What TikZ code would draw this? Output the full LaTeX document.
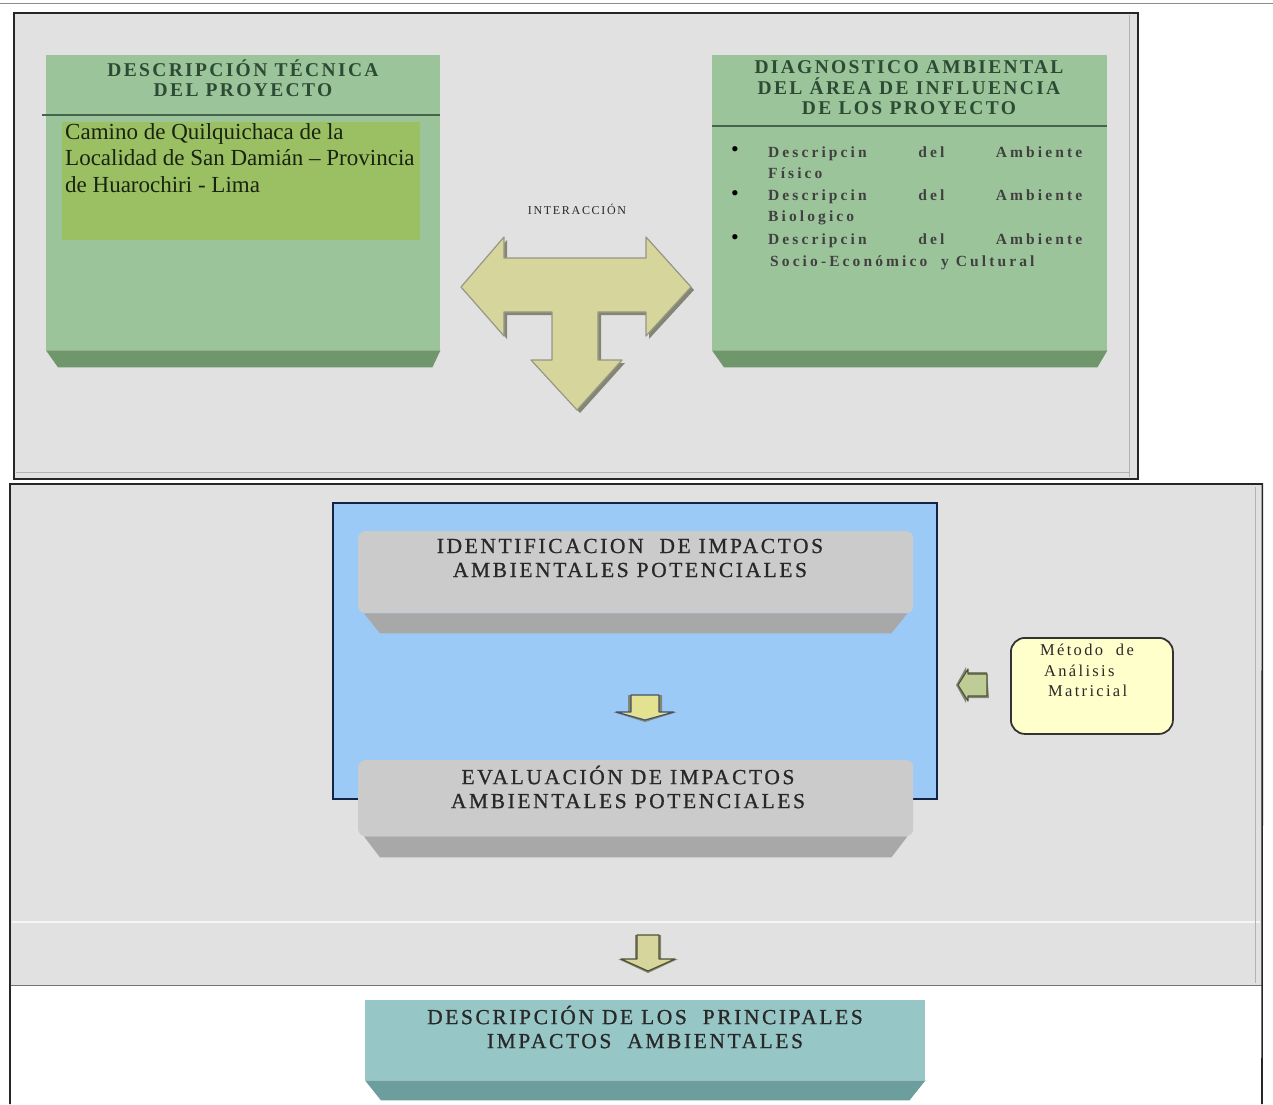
\documentclass[tikz,border=0pt]{standalone}
\usepackage{fontspec}
\setmainfont{Liberation Serif}
\newfontfamily\spc[LetterSpace=12,FakeBold=0.8]{Liberation Serif}
\newfontfamily\spch[LetterSpace=12]{Liberation Serif Bold}
\newfontfamily\spcb[LetterSpace=20]{Liberation Serif Bold}
\newfontfamily\spcs[LetterSpace=14]{Liberation Serif}
\usetikzlibrary{calc}
\definecolor{bggray}{RGB}{225,225,225}
\definecolor{greenface}{RGB}{156,196,154}
\definecolor{greenbev}{RGB}{112,150,108}
\definecolor{greensep}{RGB}{70,100,75}
\definecolor{hilite}{RGB}{155,192,100}
\definecolor{hdrtext}{RGB}{45,75,52}
\definecolor{bodytext}{RGB}{25,35,15}
\definecolor{bluefill}{RGB}{156,202,246}
\definecolor{bluedraw}{RGB}{20,35,70}
\definecolor{grayface}{RGB}{203,203,203}
\definecolor{graybev}{RGB}{168,168,168}
\definecolor{tealface}{RGB}{150,198,197}
\definecolor{tealbev}{RGB}{108,158,157}
\definecolor{khaki}{RGB}{214,213,155}
\definecolor{khakidark}{RGB}{80,82,55}
\definecolor{paleyellow}{RGB}{255,255,204}
\definecolor{txtgray}{RGB}{40,40,40}
\definecolor{paleyarrow}{RGB}{226,226,145}
\definecolor{greenarrow}{RGB}{190,205,150}
\begin{document}
\begin{tikzpicture}[x=1pt,y=-1pt,
  panel/.style={rectangle, fill=bggray, draw=black!85, line width=1.6pt, inner sep=0},
  greenbox/.style={rectangle, fill=greenface, draw=none, inner sep=0},
  greenbevel/.style={fill=greenbev},
  sepline/.style={draw=greensep, line width=1.4pt},
  hdr/.style={font=\spch\fontsize{19.5}{20.5}\selectfont, text=hdrtext, align=center, inner sep=0},
  bodyt/.style={font=\fontsize{23}{26.5}\selectfont, text=bodytext, align=left, inner sep=0, anchor=north west},
  bullt/.style={font=\spcb\fontsize{15.5}{17}\selectfont, text=black!75, inner sep=0, anchor=base west},
  bullet/.style={font=\fontsize{22}{22}\selectfont, text=black, inner sep=0},
  bluebox/.style={rectangle, fill=bluefill, draw=bluedraw, line width=1.6pt, inner sep=0},
  graybox/.style={rectangle, fill=grayface, draw=none, rounded corners=7pt, inner sep=0},
  graybevel/.style={fill=graybev},
  tealbox/.style={rectangle, fill=tealface, draw=none, inner sep=0},
  tealbevel/.style={fill=tealbev},
  capt/.style={font=\spc\fontsize{21.5}{24}\selectfont, text=txtgray, align=center, inner sep=0},
  blockarrow/.style={fill=khaki, draw=khakidark, line width=1.2pt, line join=round},
  blockshadow/.style={fill=khakidark!70, draw=none},
  notebox/.style={rectangle, rounded corners=14pt, fill=paleyellow, draw=black!80, line width=1.8pt, inner sep=0}
]
\useasboundingbox (0,0) rectangle (1273,1104);
\fill[white] (0,0) rectangle (1273,1104);
\draw[black!45, line width=1pt] (0,3) -- (1273,3);

% ---------- top panel ----------
\node[panel, anchor=north west, minimum width=1124, minimum height=466] (toppanel) at (13,12) {};
\draw[black!30, line width=0.8pt] ([xshift=-9,yshift=-3]toppanel.north east) -- ([xshift=-9,yshift=3]toppanel.south east);
\draw[black!30, line width=0.8pt] ([xshift=3,yshift=7]toppanel.south west) -- ([xshift=-9,yshift=7]toppanel.south east);

% left green box
\node[greenbox, anchor=north west, minimum width=394, minimum height=295] (tec) at (46,55) {};
\fill[greenbevel] (tec.south west) -- (tec.south east) -- ([xshift=-8,yshift=-17]tec.south east) -- ([xshift=12,yshift=-17]tec.south west) -- cycle;
\draw[sepline] ([xshift=-4,yshift=-60]tec.north west) -- ([yshift=-60]tec.north east);
\node[hdr] (tecH) at (243,78) {DESCRIPCIÓN TÉCNICA\\DEL PROYECTO};
\fill[hilite] (62,122) rectangle (420,240);
\node[bodyt] (tecT) at (65,123) {Camino de Quilquichaca de la\\Localidad de San Damián – Provincia\\de Huarochiri - Lima};

% right green box
\node[greenbox, anchor=north west, minimum width=395, minimum height=295] (diag) at (712,55) {};
\fill[greenbevel] (diag.south west) -- (diag.south east) -- ([xshift=-10,yshift=-17]diag.south east) -- ([xshift=12,yshift=-17]diag.south west) -- cycle;
\draw[sepline] ([yshift=-71]diag.north west) -- ([yshift=-71]diag.north east);
\node[hdr] (diagH) at (909,88) {DIAGNOSTICO AMBIENTAL\\DEL ÁREA DE INFLUENCIA\\DE LOS PROYECTO};
\node[bullet] (b1) at (735,152) {•};
\node[bullet] (b2) at (735,196) {•};
\node[bullet] (b3) at (735,240) {•};
\node[bullt] (l1) at (768,157) {\makebox[314pt][l]{Descripcin\hfill del\hfill Ambiente}};
\node[bullt] (l2) at (768,178) {Físico};
\node[bullt] (l3) at (768,200) {\makebox[314pt][l]{Descripcin\hfill del\hfill Ambiente}};
\node[bullt] (l4) at (768,221) {Biologico};
\node[bullt] (l5) at (768,244) {\makebox[314pt][l]{Descripcin\hfill del\hfill Ambiente}};
\node[bullt] (l6) at (770,266) {Socio-Económico\ \ y Cultural};

% interaction arrow
\node[font=\spcs\fontsize{12}{12}\selectfont, text=txtgray, inner sep=0] (inter) at (577,209) {INTERACCIÓN};
\coordinate (tarr) at (577,300);
\begin{scope}[shift={(3,3)}]
\fill[blockshadow] (461,287) -- (504,237) -- (504,258) -- (646,258) -- (646,237) -- (691,287) -- (646,336) -- (646,312) -- (598,312) -- (598,360) -- (622,360) -- (577,410) -- (531,360) -- (552,360) -- (552,312) -- (504,312) -- (504,336) -- cycle;
\end{scope}
\path[blockarrow, draw=khakidark!60] (461,287) -- (504,237) -- (504,258) -- (646,258) -- (646,237) -- (691,287) -- (646,336) -- (646,312) -- (598,312) -- (598,360) -- (622,360) -- (577,410) -- (531,360) -- (552,360) -- (552,312) -- (504,312) -- (504,336) -- cycle;

% ---------- lower panel ----------
\node[rectangle, fill=bggray, draw=none, anchor=north west, minimum width=1252, minimum height=502, inner sep=0] (lowpanel) at (10,484) {};
\draw[white, line width=2pt, opacity=0.7] (12,922) -- (1260,922);
\draw[black!55, line width=1.5pt] ([yshift=1]lowpanel.south west) -- ([yshift=1]lowpanel.south east);
\draw[black!85, line width=1.6pt] (10,1104) -- (lowpanel.north west) -- (lowpanel.north east) -- (1262,1104);
\draw[black!30, line width=0.8pt] ([xshift=-7,yshift=-3]lowpanel.north east) -- ([xshift=-7,yshift=3]lowpanel.south east);

% blue frame
\node[bluebox, anchor=north west, minimum width=604, minimum height=296] (blue) at (332,502) {};

% identification box
\node[graybox, anchor=north west, minimum width=555, minimum height=82] (ident) at (358,531) {};
\fill[graybevel] ([xshift=6]ident.south west) -- ([xshift=-6]ident.south east) -- ([xshift=-22,yshift=-20]ident.south east) -- ([xshift=22,yshift=-20]ident.south west) -- cycle;
\node[capt] (identT) at (630,558) {IDENTIFICACION\ \ DE IMPACTOS\\AMBIENTALES POTENCIALES};

% arrow ident -> eval
\coordinate (a1) at (645,695);
\fill[blockshadow] ($(a1)+(-17,0)$) -- ($(a1)+(17,0)$) -- ($(a1)+(17,17)$) -- ($(a1)+(32,17)$) -- ($(a1)+(0,27)$) -- ($(a1)+(-32,17)$) -- ($(a1)+(-17,17)$) -- cycle;
\path[blockarrow, fill=paleyarrow, draw=bluedraw!80] ($(a1)+(-14,0)$) -- ($(a1)+(14,0)$) -- ($(a1)+(14,17)$) -- ($(a1)+(29,17)$) -- ($(a1)+(0,25)$) -- ($(a1)+(-29,17)$) -- ($(a1)+(-14,17)$) -- cycle;

% evaluation box
\node[graybox, anchor=north west, minimum width=555, minimum height=76] (eval) at (358,760) {};
\fill[graybevel] ([xshift=6]eval.south west) -- ([xshift=-6]eval.south east) -- ([xshift=-22,yshift=-21]eval.south east) -- ([xshift=22,yshift=-21]eval.south west) -- cycle;
\node[capt] (evalT) at (628,787) {EVALUACIÓN DE IMPACTOS\\AMBIENTALES POTENCIALES};

% method box and its arrow
\node[notebox, anchor=north west, minimum width=162, minimum height=96] (met) at (1010,637) {};
\node[font=\spcs\fontsize{16.5}{20.5}\selectfont, text=txtgray, align=left, inner sep=0, anchor=north west] (metT) at (1040,644) {Método\ \ de\\\hspace*{4pt}Análisis\\\hspace*{8pt}Matricial};
\coordinate (a2) at (987,685);
\fill[blockshadow] ($(a2)+(0,-13)$) -- ($(a2)+(-21,-13)$) -- ($(a2)+(-21,-18)$) -- ($(a2)+(-31,0)$) -- ($(a2)+(-21,18)$) -- ($(a2)+(-21,13)$) -- ($(a2)+(2,13)$) -- cycle;
\path[blockarrow, fill=greenarrow] ($(a2)+(0,-11)$) -- ($(a2)+(-19,-11)$) -- ($(a2)+(-19,-16)$) -- ($(a2)+(-29,0)$) -- ($(a2)+(-19,16)$) -- ($(a2)+(-19,11)$) -- ($(a2)+(0,11)$) -- cycle;

% arrow eval -> description
\coordinate (a3) at (648,935);
\fill[blockshadow] ($(a3)+(-13,0)$) -- ($(a3)+(13,0)$) -- ($(a3)+(13,24)$) -- ($(a3)+(30,24)$) -- ($(a3)+(0,38)$) -- ($(a3)+(-30,24)$) -- ($(a3)+(-13,24)$) -- cycle;
\path[blockarrow] ($(a3)+(-11,0)$) -- ($(a3)+(11,0)$) -- ($(a3)+(11,24)$) -- ($(a3)+(27,24)$) -- ($(a3)+(0,36)$) -- ($(a3)+(-27,24)$) -- ($(a3)+(-11,24)$) -- cycle;

% description box
\node[tealbox, anchor=north west, minimum width=560, minimum height=80] (desc) at (365,1000) {};
\fill[tealbevel] (desc.south west) -- (desc.south east) -- ([xshift=-16,yshift=-20]desc.south east) -- ([xshift=16,yshift=-20]desc.south west) -- cycle;
\node[capt] (descT) at (645,1027) {DESCRIPCIÓN DE LOS\ \ PRINCIPALES\\IMPACTOS\ \ AMBIENTALES};
\end{tikzpicture}
\end{document}
